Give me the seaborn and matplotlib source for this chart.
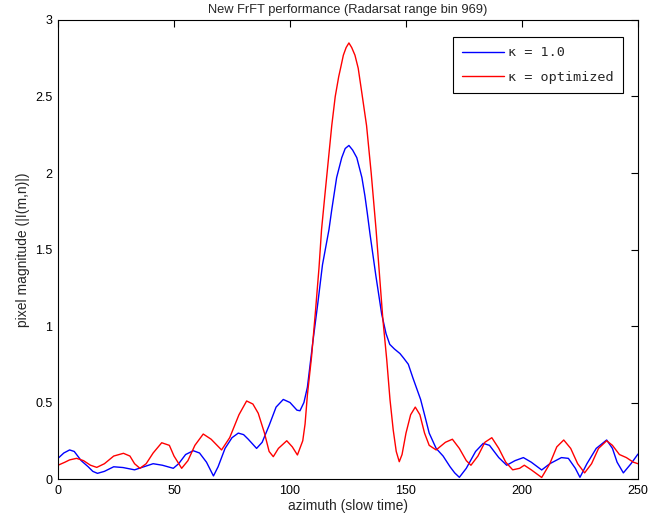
import numpy as np
import pandas as pd
import matplotlib
matplotlib.use("Agg")
import matplotlib.pyplot as plt
import seaborn as sns

# values
az_blue = [0, 2.5, 5, 7, 10, 13, 15, 17, 20, 24, 28, 33, 37, 41, 45, 49.7, 52, 55, 58.3, 61,
           64, 67, 69, 72, 75, 77.7, 80, 82, 85.6, 88, 91, 94, 97.1, 100, 103, 104.3, 106,
           107.5, 109.8, 112, 114, 116.8, 118, 120.1, 122.3, 123.8, 125.4, 127, 128.8, 131,
           132.3, 133.3, 134.5, 137, 139.5, 141.4, 143, 145, 147.4, 149, 151, 153, 156.3, 158,
           160, 163, 166, 169, 171, 173, 176, 180, 183.3, 186, 190, 193.4, 197, 200.6, 204,
           208.5, 212, 217, 220, 223, 225, 228, 232, 236.5, 239, 241, 243.7, 247, 250]
mag_blue = [0.135, 0.17, 0.19, 0.18, 0.12, 0.08, 0.05, 0.037, 0.05, 0.08, 0.075, 0.06, 0.08,
            0.10, 0.09, 0.07, 0.10, 0.16, 0.185, 0.17, 0.11, 0.02, 0.08, 0.20, 0.27, 0.30,
            0.29, 0.26, 0.20, 0.24, 0.35, 0.47, 0.52, 0.50, 0.45, 0.446, 0.50, 0.60, 0.89, 1.15,
            1.40, 1.63, 1.76, 1.97, 2.10, 2.16, 2.18, 2.15, 2.10, 1.97, 1.85, 1.74, 1.60, 1.33,
            1.08, 0.95, 0.88, 0.85, 0.82, 0.79, 0.75, 0.66, 0.52, 0.42, 0.30, 0.20, 0.15, 0.08,
            0.04, 0.011, 0.07, 0.18, 0.233, 0.22, 0.14, 0.09, 0.12, 0.14, 0.11, 0.059, 0.10,
            0.14, 0.135, 0.07, 0.011, 0.10, 0.20, 0.255, 0.20, 0.11, 0.04, 0.10, 0.163]

az_red = [0, 3, 5, 8, 11, 14, 16.7, 20, 24, 28.2, 31, 33, 35.3, 38, 41, 44.7, 48, 50, 53.3,
          56, 59, 62.6, 66, 70.5, 74, 78, 81.3, 84, 86.3, 89, 91, 92.8, 95, 98.6, 101, 103.2,
          105.5, 106.5, 107.5, 109.3, 111, 112.5, 113.6, 115, 116.5, 118, 119.5, 121, 121.8,
          123, 124.2, 125.4, 126.6, 128, 129.4, 131, 133, 135, 137.1, 138.5, 140, 141.7, 143.1,
          144.5, 145.8, 147.1, 148.3, 150, 152, 154, 156, 158, 160, 163, 167, 170, 173, 176,
          178, 181, 184, 187, 190, 193, 196, 199, 201, 204, 208.5, 212, 215, 218, 221, 224,
          227, 230, 233, 236.5, 239, 242, 245, 248, 250]
mag_red = [0.09, 0.11, 0.125, 0.135, 0.12, 0.09, 0.076, 0.10, 0.15, 0.168, 0.15, 0.10, 0.07,
           0.10, 0.17, 0.237, 0.22, 0.15, 0.07, 0.12, 0.22, 0.294, 0.26, 0.19, 0.27, 0.42,
           0.51, 0.49, 0.43, 0.30, 0.18, 0.146, 0.20, 0.25, 0.21, 0.157, 0.25, 0.36, 0.55,
           0.80, 1.10, 1.38, 1.63, 1.85, 2.08, 2.31, 2.50, 2.63, 2.685, 2.77, 2.82, 2.85, 2.82,
           2.77, 2.685, 2.52, 2.31, 2.00, 1.63, 1.35, 1.05, 0.78, 0.52, 0.32, 0.18, 0.113,
           0.16, 0.30, 0.42, 0.47, 0.42, 0.30, 0.22, 0.19, 0.24, 0.26, 0.20, 0.12, 0.09, 0.15,
           0.24, 0.27, 0.20, 0.11, 0.06, 0.07, 0.09, 0.06, 0.01, 0.10, 0.21, 0.255, 0.20, 0.10,
           0.04, 0.10, 0.20, 0.25, 0.22, 0.16, 0.14, 0.11, 0.10]

sns.set_style("white")
plt.rcParams['font.family'] = ['Liberation Sans', 'DejaVu Sans']

fig = plt.figure(figsize=(6.49, 5.29), dpi=100)
ax = fig.add_axes([0.0894, 0.0945, 0.8936, 0.8677])

df_b = pd.DataFrame({'az': az_blue, 'mag': mag_blue})
df_r = pd.DataFrame({'az': az_red, 'mag': mag_red})
sns.lineplot(data=df_b, x='az', y='mag', color='blue', lw=1, label='\u03ba = 1.0', ax=ax)
sns.lineplot(data=df_r, x='az', y='mag', color='red', lw=1, label='\u03ba = optimized', ax=ax)

ax.set_xlim(0, 250)
ax.set_ylim(0, 3)
ax.set_xticks(np.arange(0, 251, 50))
ax.set_yticks(np.arange(0, 3.01, 0.5))
ax.set_yticklabels(['0', '0.5', '1', '1.5', '2', '2.5', '3'])
ax.tick_params(direction='in', length=5, width=0.8, top=True, right=True,
               labelsize=9, colors='black', pad=4)
for s in ax.spines.values():
    s.set_visible(True)
    s.set_color('black')
    s.set_linewidth(0.8)

ax.set_xlabel('azimuth (slow time)', fontsize=10, labelpad=2)
ax.set_ylabel('pixel magnitude (|I(m,n)|)', fontsize=10, labelpad=4)
ax.set_title('New FrFT performance (Radarsat range bin 969)', fontsize=9.3, pad=5)

leg = ax.legend(loc='upper right', bbox_to_anchor=(0.986, 0.978), fancybox=False,
                framealpha=1, edgecolor='black', handlelength=3.1, handletextpad=0.3,
                borderpad=0.7, labelspacing=0.85,
                prop={'family': 'DejaVu Sans Mono', 'size': 9.7})
leg.get_frame().set_linewidth(0.8)

fig.savefig('out.png', dpi=100, facecolor='white')
